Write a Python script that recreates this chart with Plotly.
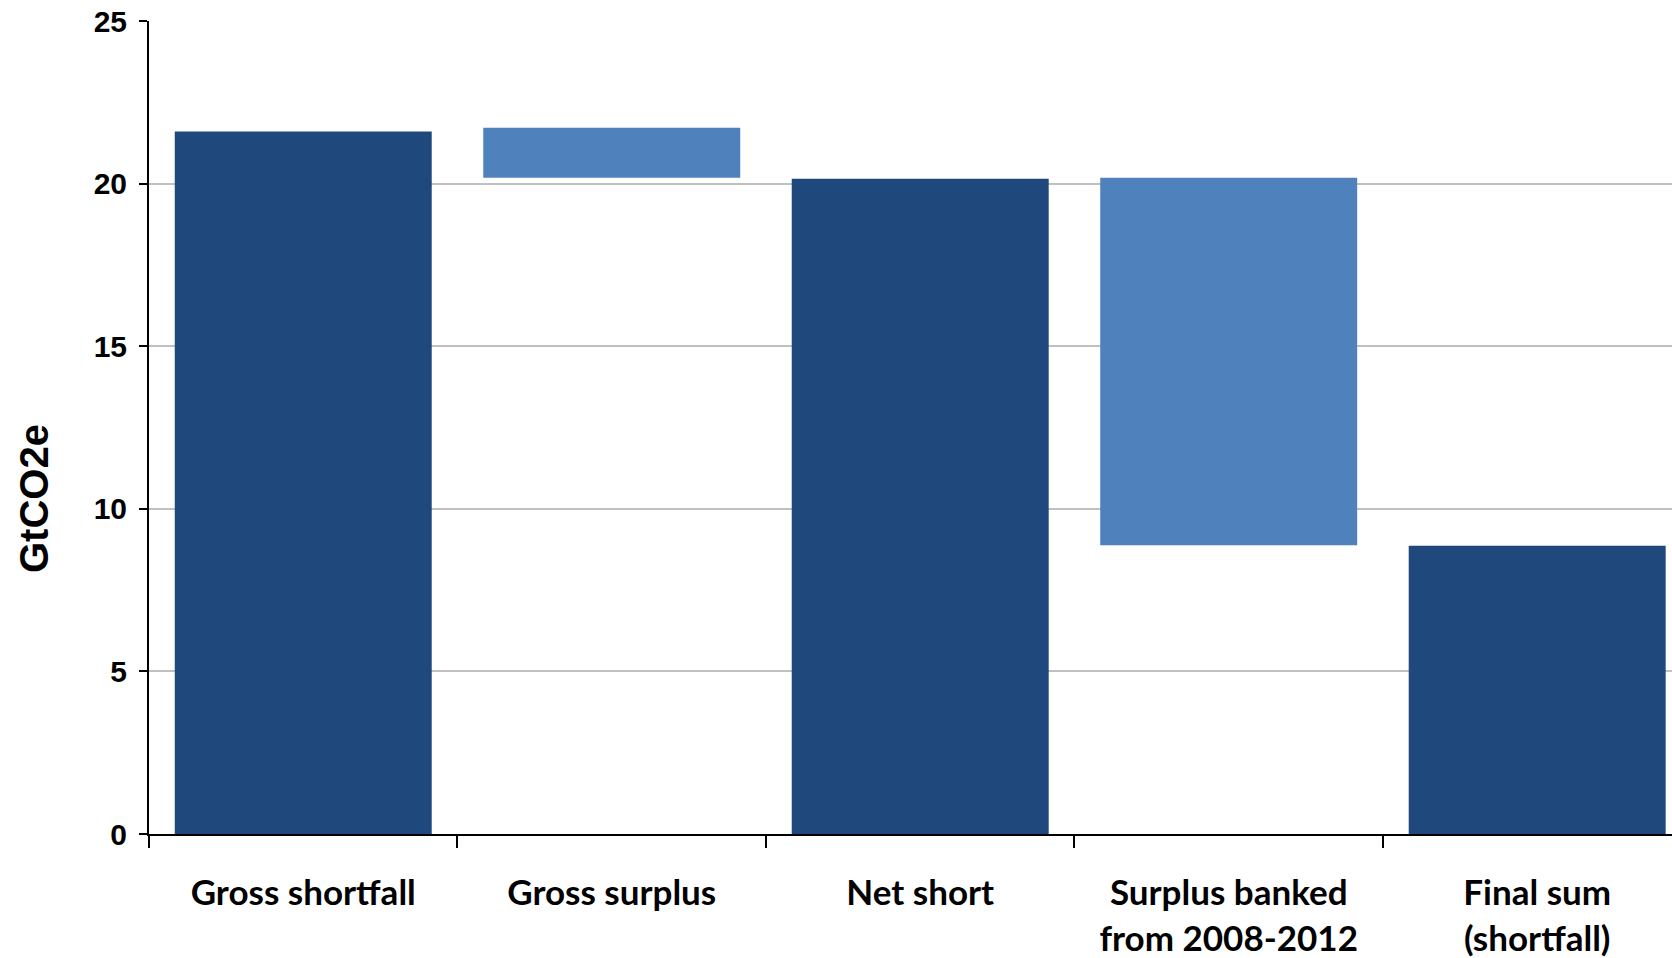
import plotly.graph_objects as go

categories = ["Gross shortfall", "Gross surplus", "Net short",
              "Surplus banked<br>from 2008-2012", "Final sum<br>(shortfall)"]
bar_bottom = [0, 20.18, 0, 8.88, 0]
bar_top = [21.6, 21.72, 20.15, 20.18, 8.86]
bar_kind = ["total", "delta", "total", "delta", "total"]
y_ticks = [0, 5, 10, 15, 20, 25]

DARK = "#1F497D"
LIGHT = "#4F81BD"
colors = [DARK if k == "total" else LIGHT for k in bar_kind]
heights = [t - b for t, b in zip(bar_top, bar_bottom)]

fig = go.Figure(go.Bar(
    x=categories, y=heights, base=bar_bottom,
    marker=dict(color=colors, line=dict(width=0)),
    width=0.833, showlegend=False,
))

W, H = 1672, 958
ml, mt, mb = 149, 21, 124
fig.update_layout(
    width=W, height=H,
    margin=dict(l=ml, r=0, t=mt, b=mb, autoexpand=False),
    paper_bgcolor="white", plot_bgcolor="white",
    bargap=0.167,
)
fig.update_xaxes(
    type="category", range=[-0.5, 4.437],
    showline=True, linecolor="black", linewidth=2,
    ticks="outside", tickson="boundaries", ticklen=12, tickwidth=2, tickcolor="black",
    showgrid=False, zeroline=False,
    tickfont=dict(family="Lato", size=35, color="black", weight="bold"),
    ticklabelstandoff=27,
)
fig.update_yaxes(
    range=[0, 25], tickvals=y_ticks,
    showline=True, linecolor="black", linewidth=2,
    ticks="outside", ticklen=8, tickwidth=2, tickcolor="black",
    showgrid=True, gridcolor="#C0C0C0", gridwidth=2, zeroline=False,
    tickfont=dict(family="Liberation Sans", size=30, color="black", weight="bold"),
    ticklabelstandoff=6,
)
fig.add_annotation(
    text="GtCO2e", textangle=-90, showarrow=False,
    xref="paper", yref="paper",
    x=(34 - ml) / (W - ml), y=(H - mb - 498) / (H - mb - mt),
    xanchor="center", yanchor="middle",
    font=dict(family="Liberation Sans", size=40, color="black", weight="bold"),
)
fig.write_html("out.html")
